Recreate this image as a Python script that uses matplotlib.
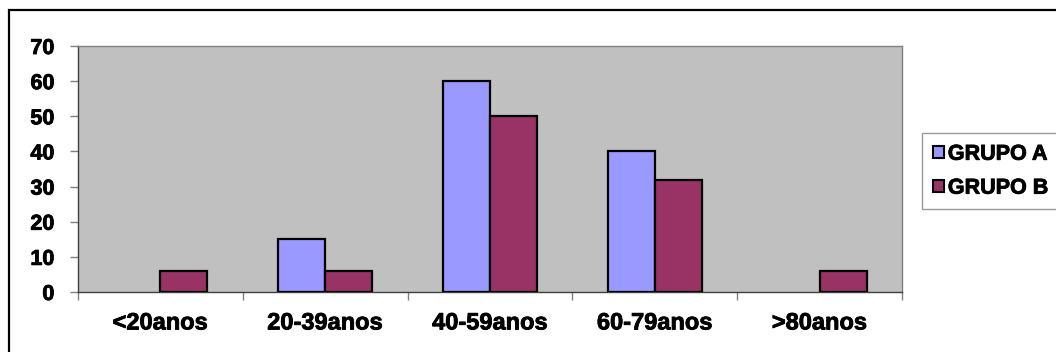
import matplotlib
matplotlib.use("Agg")
import matplotlib.pyplot as plt
import matplotlib.patheffects as pe
import numpy as np
from matplotlib.patches import Rectangle, Patch

categories = ["<20anos", "20-39anos", "40-59anos", "60-79anos", ">80anos"]
grupo_a = [0, 15, 60, 40, 0]
grupo_b = [6, 6, 50, 32, 6]
series_names = ["GRUPO A", "GRUPO B"]
yticks = [0, 10, 20, 30, 40, 50, 60, 70]

W, H = 1056, 352
fig = plt.figure(figsize=(W / 100, H / 100), dpi=100)
plt.rcParams['font.family'] = ['Liberation Sans', 'DejaVu Sans']
thick = [pe.withStroke(linewidth=0.6, foreground='black')]

# outer chart frame
fig.patches.append(Rectangle((9 / W, -0.1), 1.2, 1 - 10 / H + 0.1, transform=fig.transFigure,
                             fill=False, edgecolor='black', linewidth=1.6))

ax = fig.add_axes([78 / W, 1 - 292 / H, (902 - 78) / W, (292 - 46) / H])
ax.set_facecolor('#C0C0C0')

x = np.arange(len(categories))
w = 1 / 3.5
for vals, off, col, name in [(grupo_a, -w / 2, '#9999FF', series_names[0]),
                             (grupo_b, w / 2, '#993366', series_names[1])]:
    ec = ['black' if v > 0 else 'none' for v in vals]
    ax.bar(x + off, vals, width=w, color=col, edgecolor=ec, linewidth=1.6, zorder=3, label=name)

ax.set_xlim(-0.5, len(categories) - 0.5)
ax.set_ylim(0, 70)
ax.set_yticks(yticks)
ax.set_yticklabels([str(v) for v in yticks], fontsize=15.5, fontweight='bold')
ax.set_xticks(x)
ax.set_xticklabels(categories, fontsize=17, fontweight='bold')
ax.tick_params(axis='x', length=0, pad=14)
ax.set_xticks(np.arange(-0.5, len(categories) + 0.5, 1), minor=True)
ax.tick_params(axis='x', which='minor', length=6, color='#808080', width=1)
ax.tick_params(axis='y', length=6, color='#808080', width=1, pad=11)
for t in ax.get_xticklabels() + ax.get_yticklabels():
    t.set_path_effects(thick)

for s in ['top', 'right']:
    ax.spines[s].set_color('#808080')
    ax.spines[s].set_linewidth(1)
ax.spines['left'].set_color('#404040')
ax.spines['bottom'].set_color('#404040')
ax.spines['left'].set_linewidth(1)
ax.spines['bottom'].set_linewidth(1)

handles = [Patch(facecolor='#9999FF', edgecolor='black', linewidth=1.5),
           Patch(facecolor='#993366', edgecolor='black', linewidth=1.5)]
leg = fig.legend(handles, series_names, loc='upper left',
                 bbox_to_anchor=(922 / W, 1 - 133 / H), frameon=True, fancybox=False,
                 prop={'weight': 'bold', 'size': 15.5}, handlelength=0.5, handleheight=0.5,
                 handletextpad=0.2, borderpad=0.5, labelspacing=0.6, borderaxespad=0)
leg.get_frame().set_edgecolor('#808080')
leg.get_frame().set_linewidth(1)
for t in leg.get_texts():
    t.set_path_effects(thick)

fig.savefig('out.png', dpi=100)
